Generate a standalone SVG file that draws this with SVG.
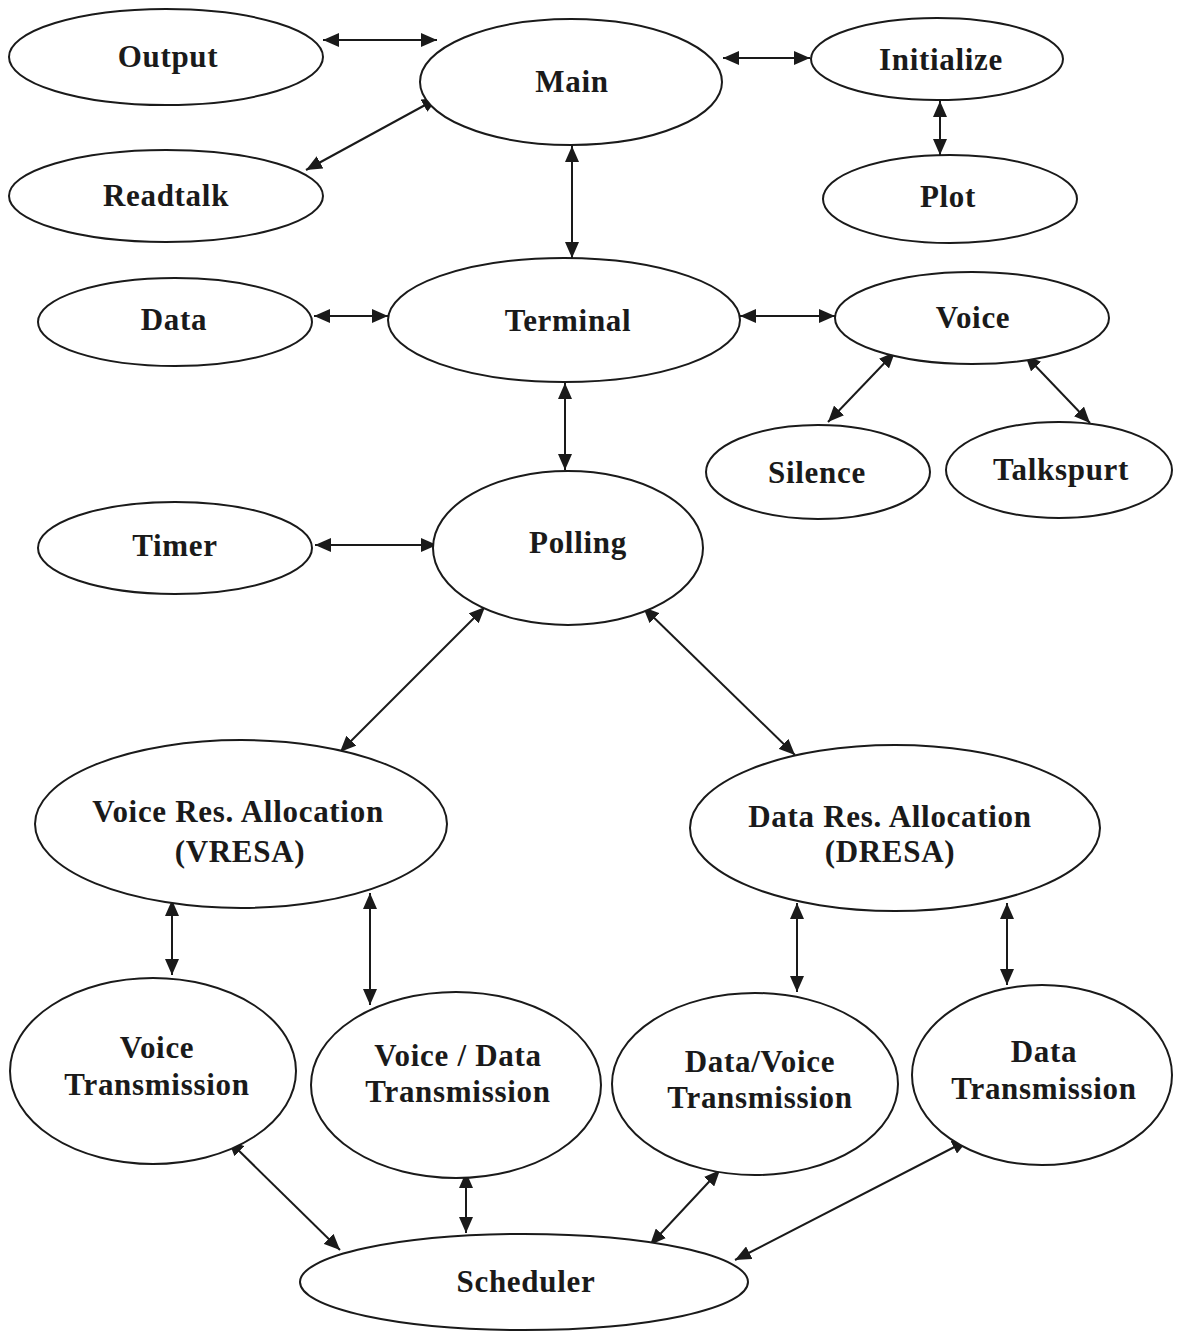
<svg xmlns="http://www.w3.org/2000/svg" width="1185" height="1331" viewBox="0 0 1185 1331">
<style>
.n ellipse{fill:#fff;stroke:#1a1a1a;stroke-width:2}
.n text{font-family:"Liberation Serif","Times New Roman",serif;font-weight:bold;font-size:31px;letter-spacing:0.7px;fill:#1a1a1a;text-anchor:middle}
.c line{stroke:#1a1a1a;stroke-width:2;marker-start:url(#ah);marker-end:url(#ah)}
</style>
<defs>
<marker id="ah" viewBox="0 0 16 14" refX="16" refY="7" markerWidth="16" markerHeight="14" markerUnits="userSpaceOnUse" orient="auto-start-reverse">
<path d="M0,0 L16,7 L0,14 z" fill="#1a1a1a"/>
</marker>
</defs>
<rect width="1185" height="1331" fill="#fff"/>
<g class="c" id="connectors">
<line x1="323" y1="40" x2="437" y2="40"/>
<line x1="438" y1="98" x2="306" y2="170"/>
<line x1="723" y1="58" x2="810" y2="58"/>
<line x1="940" y1="101" x2="940" y2="155"/>
<line x1="572" y1="146" x2="572" y2="258"/>
<line x1="314" y1="316" x2="388" y2="316"/>
<line x1="740" y1="316" x2="835" y2="316"/>
<line x1="895" y1="352" x2="828" y2="422"/>
<line x1="1025" y1="355" x2="1090" y2="423"/>
<line x1="565" y1="383" x2="565" y2="470"/>
<line x1="315" y1="545" x2="437" y2="545"/>
<line x1="485" y1="607" x2="340" y2="752"/>
<line x1="643" y1="607" x2="795" y2="755"/>
<line x1="172" y1="900" x2="172" y2="975"/>
<line x1="370" y1="893" x2="370" y2="1005"/>
<line x1="797" y1="903" x2="797" y2="992"/>
<line x1="1007" y1="903" x2="1007" y2="985"/>
<line x1="228" y1="1140" x2="340" y2="1250"/>
<line x1="466" y1="1172" x2="466" y2="1233"/>
<line x1="720" y1="1170" x2="650" y2="1245"/>
<line x1="968" y1="1140" x2="735" y2="1260"/>
</g>
<g class="n" id="output"><ellipse cx="166" cy="57" rx="157" ry="48"/><text x="168" y="67">Output</text></g>
<g class="n" id="main"><ellipse cx="571" cy="82" rx="151" ry="63"/><text x="572" y="92">Main</text></g>
<g class="n" id="initialize"><ellipse cx="937" cy="59" rx="126" ry="41"/><text x="941" y="70">Initialize</text></g>
<g class="n" id="plot"><ellipse cx="950" cy="199" rx="127" ry="44"/><text x="948" y="207">Plot</text></g>
<g class="n" id="readtalk"><ellipse cx="166" cy="196" rx="157" ry="46"/><text x="166" y="206">Readtalk</text></g>
<g class="n" id="data"><ellipse cx="175" cy="322" rx="137" ry="44"/><text x="174" y="330">Data</text></g>
<g class="n" id="terminal"><ellipse cx="564" cy="320" rx="176" ry="62"/><text x="568" y="331">Terminal</text></g>
<g class="n" id="voice"><ellipse cx="972" cy="318" rx="137" ry="46"/><text x="973" y="328">Voice</text></g>
<g class="n" id="silence"><ellipse cx="818" cy="472" rx="112" ry="47"/><text x="817" y="483">Silence</text></g>
<g class="n" id="talkspurt"><ellipse cx="1059" cy="470" rx="113" ry="48"/><text x="1061" y="480">Talkspurt</text></g>
<g class="n" id="timer"><ellipse cx="175" cy="548" rx="137" ry="46"/><text x="175" y="556">Timer</text></g>
<g class="n" id="polling"><ellipse cx="568" cy="548" rx="135" ry="77"/><text x="578" y="553">Polling</text></g>
<g class="n" id="vresa"><ellipse cx="241" cy="824" rx="206" ry="84"/><text x="238" y="822">Voice Res. Allocation</text><text x="240" y="862">(VRESA)</text></g>
<g class="n" id="dresa"><ellipse cx="895" cy="828" rx="205" ry="83"/><text x="890" y="827">Data Res. Allocation</text><text x="890" y="862">(DRESA)</text></g>
<g class="n" id="voicetx"><ellipse cx="153" cy="1071" rx="143" ry="93"/><text x="157" y="1058">Voice</text><text x="157" y="1095">Transmission</text></g>
<g class="n" id="vdtx"><ellipse cx="456" cy="1085" rx="145" ry="93"/><text x="458" y="1066">Voice / Data</text><text x="458" y="1102">Transmission</text></g>
<g class="n" id="dvtx"><ellipse cx="755" cy="1084" rx="143" ry="91"/><text x="760" y="1072">Data/Voice</text><text x="760" y="1108">Transmission</text></g>
<g class="n" id="dtx"><ellipse cx="1042" cy="1075" rx="130" ry="90"/><text x="1044" y="1062">Data</text><text x="1044" y="1099">Transmission</text></g>
<g class="n" id="scheduler"><ellipse cx="524" cy="1282" rx="224" ry="48"/><text x="526" y="1292">Scheduler</text></g>
</svg>
